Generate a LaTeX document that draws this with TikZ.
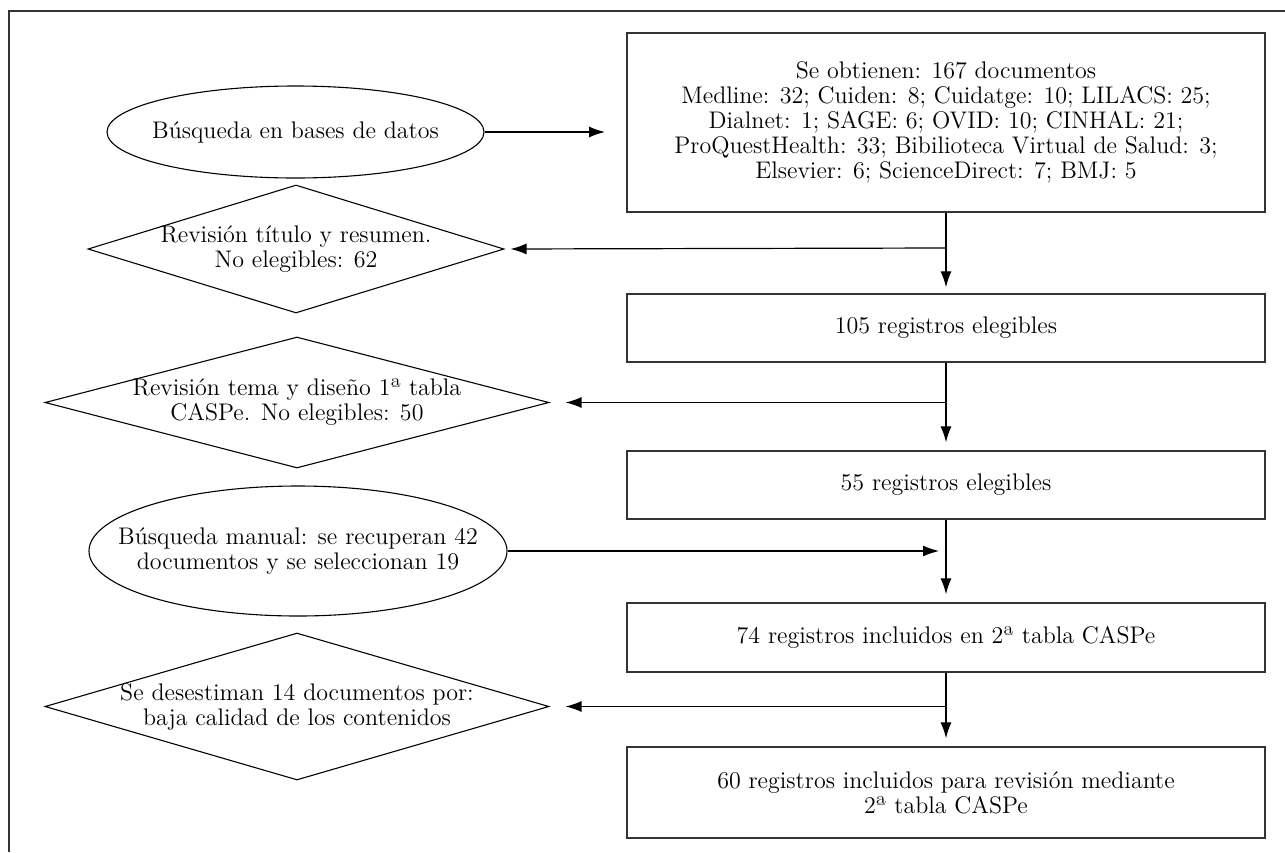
\documentclass[tikz,border=0pt]{standalone}
\usepackage{tikz}
\usetikzlibrary{shapes.geometric,arrows.meta,positioning}

\begin{document}
\begin{tikzpicture}[
x=0.5pt,y=-0.5pt,
txt/.style={
  align=center,
  font=\fontsize{12}{12.5}\selectfont,
  inner sep=0pt
},
caja/.style={
  draw=black!80,
  line width=0.75pt,
  rectangle,
  minimum width=319pt,
  txt
},
elip/.style={
  draw,
  ellipse,
  line width=0.55pt,
  inner sep=0pt
},
rombo/.style={
  draw,
  diamond,
  line width=0.55pt,
  inner sep=0pt
},
flecha/.style={
  draw,
  line width=0.6pt,
  -{Latex[length=8pt,width=5.5pt]}
}
]
\useasboundingbox (0,0) rectangle (1285,852);
\draw[line width=0.7pt,black!80] (9,852) -- (9,11) -- (1285,11);

\node[caja,minimum height=89.5pt] (docs) at (946,122.5)
  {Se obtienen: 167 documentos\\
   Medline: 32; Cuiden: 8; Cuidatge: 10; LILACS: 25;\\
   Dialnet: 1; SAGE: 6; OVID: 10; CINHAL: 21;\\
   ProQuestHealth: 33; Bibilioteca Virtual de Salud: 3;\\
   Elsevier: 6; ScienceDirect: 7; BMJ: 5};
\node[caja,minimum height=34pt] (reg105) at (946,328)
  {105 registros elegibles};
\node[caja,minimum height=34pt] (reg55) at (946,485)
  {55 registros elegibles};
\node[caja,minimum height=34.5pt] (reg74) at (946,637.5)
  {74 registros incluidos en 2ª tabla CASPe};
\node[caja,minimum height=45.5pt] (reg60) at (946,792.5)
  {60 registros incluidos para revisión mediante\\ 2ª tabla CASPe};

\node[elip,minimum width=188.5pt,minimum height=46pt,
  label={[txt]center:Búsqueda en bases de datos}] (busq1) at (295.5,132) {};
\node[elip,minimum width=209pt,minimum height=65pt,
  label={[txt]center:{Búsqueda manual: se recuperan 42\\ documentos y se seleccionan 19}}]
  (busq2) at (298,551) {};

\node[rombo,minimum width=208pt,minimum height=64pt,
  label={[txt]center:{Revisión título y resumen.\\ No elegibles: 62}}]
  (rev1) at (296,249) {};
\node[rombo,minimum width=252pt,minimum height=65.5pt,
  label={[txt]center:{Revisión tema y diseño 1ª tabla\\ CASPe. No elegibles: 50}}]
  (rev2) at (297,402.5) {};
\node[rombo,minimum width=252pt,minimum height=73.5pt,
  label={[txt]center:{Se desestiman 14 documentos por:\\ baja calidad de los contenidos}}]
  (rev3) at (297,706.5) {};

\coordinate (in1) at (605,132);
\coordinate (r1) at (946,248);
\coordinate (r2) at (946,402.5);
\coordinate (in2) at (939,551);
\coordinate (r3) at (946,706.5);

\draw[flecha] (busq1.east) -- (in1);
\draw[flecha,shorten >=3pt] (docs) -- (reg105);
\draw[flecha,shorten >=4pt] (reg105) -- (reg55);
\draw[flecha,shorten >=4pt] (reg55) -- (reg74);
\draw[flecha,shorten >=4pt] (reg74) -- (reg60);
\draw[flecha,shorten >=3pt] (r1) -- (rev1.east);
\draw[flecha,shorten >=8pt] (r2) -- (rev2.east);
\draw[flecha,shorten >=8pt] (r3) -- (rev3.east);
\draw[flecha] (busq2.east) -- (in2);
\end{tikzpicture}
\end{document}
